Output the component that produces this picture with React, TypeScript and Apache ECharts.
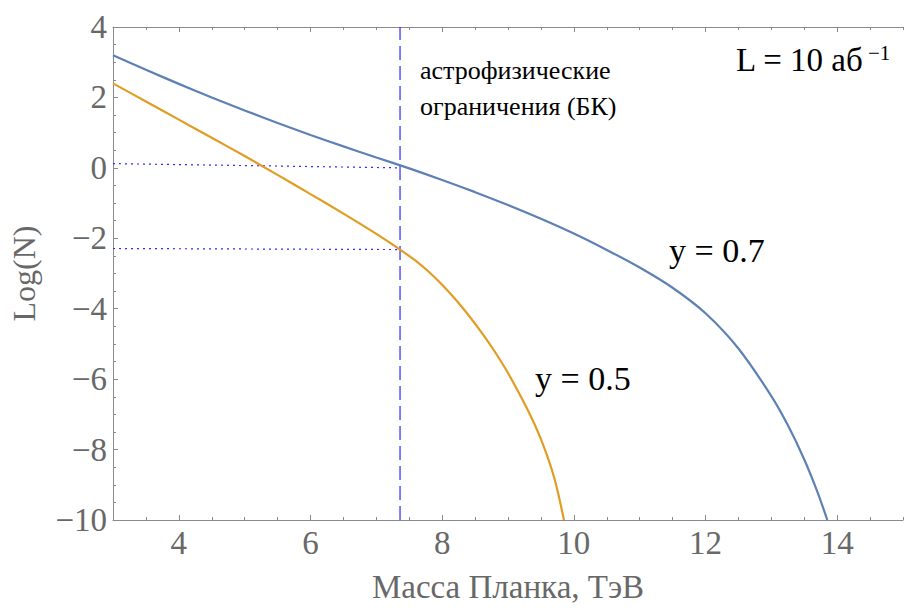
import React, { useEffect, useRef } from "react";
import * as echarts from "echarts";

// ---- data ----
const xMin = 3;
const xMax = 15;
const yMin = -10;
const yMax = 4;
const xMajorTicks = [4, 6, 8, 10, 12, 14];

const blueX = [3, 3.5, 4, 4.5, 5, 5.5, 6, 6.5, 7, 7.5, 8, 8.5, 9, 9.5, 10, 10.5, 11, 11.5, 12, 12.5, 13, 13.25, 13.5, 13.7, 13.85];
const blueY = [3.2, 2.785, 2.385, 2.0, 1.63, 1.275, 0.935, 0.61, 0.295, -0.015, -0.345, -0.69, -1.055, -1.445, -1.865, -2.33, -2.83, -3.405, -4.13, -5.13, -6.48, -7.305, -8.28, -9.2, -10];

const orangeX = [3, 3.5, 4, 4.5, 5, 5.5, 6, 6.5, 7, 7.36, 7.6, 7.8, 8, 8.3, 8.6, 8.8, 9, 9.3, 9.5, 9.7, 9.85];
const orangeY = [2.4, 1.885, 1.37, 0.855, 0.335, -0.2, -0.745, -1.3, -1.875, -2.32, -2.644, -2.958, -3.322, -3.952, -4.678, -5.222, -5.826, -6.876, -7.706, -8.786, -10];

const boundaryX = 7.36;
const guideX = [3, 7.36];
const guideBlueY = [0.12, 0.0];
const guideOrangeY = [-2.29, -2.32];

const xAxisName = "Масса Планка, ТэВ";
const yAxisName = "Log(N)";
const noteLines = ["астрофизические", "ограничения (БК)"];
const lumiText = "L = 10 аб";
const lumiSup = "−1";
const blueLabel = "y = 0.7";
const orangeLabel = "y = 0.5";

const FONT = "Liberation Serif";
const AXIS_COLOR = "#8a8a8a";
const LABEL_COLOR = "#686868";
const GUIDE_COLOR = "#2a2aff";

const zip = (xs: number[], ys: number[]) => xs.map((x, i) => [x, ys[i]]);
const fmt = (v: number) => (v < 0 ? "\u2212" + Math.abs(v) : String(v));

export default function App() {
  const ref = useRef<HTMLDivElement>(null);
  useEffect(() => {
    document.body.style.margin = "0";
    if (!ref.current) return;
    const chart = echarts.init(ref.current, undefined, { renderer: "svg" });

    const baseX = {
      type: "value" as const,
      min: xMin,
      max: xMax,
      splitLine: { show: false },
    };

    const note = (text: string, left: number, top: number, size: number) => ({
      text,
      left,
      top,
      padding: 0,
      textStyle: { fontFamily: FONT, fontSize: size, fontWeight: "normal", color: "#000" },
    });

    const option: any = {
      animation: false,
      backgroundColor: "#ffffff",
      textStyle: { fontFamily: FONT },
      title: [
        note(noteLines[0], 420, 57, 26),
        note(noteLines[1], 420, 93, 26),
        note(lumiText, 736, 43, 33),
        note(lumiSup, 868, 42, 21),
        note(blueLabel, 669, 233, 34),
        note(orangeLabel, 535, 361, 34),
      ],
      grid: { left: 113, top: 27, right: -7, bottom: 85 },
      xAxis: [
        {
          ...baseX,
          position: "bottom",
          interval: 0.5,
          name: xAxisName,
          nameLocation: "middle",
          nameGap: 50,
          nameTextStyle: { fontFamily: FONT, fontSize: 33, color: LABEL_COLOR },
          axisLine: { show: true, onZero: false, lineStyle: { color: AXIS_COLOR, width: 1 } },
          axisTick: { show: true, inside: true, length: 3, lineStyle: { color: AXIS_COLOR } },
          axisLabel: {
            show: true,
            margin: 6,
            fontFamily: FONT,
            fontSize: 33,
            color: LABEL_COLOR,
            formatter: (v: number) => (xMajorTicks.indexOf(v) >= 0 ? fmt(v) : ""),
          },
        },
        {
          ...baseX,
          position: "bottom",
          axisLine: { show: false, onZero: false },
          axisLabel: { show: false },
          axisTick: { show: true, inside: true, length: 5, customValues: xMajorTicks, lineStyle: { color: AXIS_COLOR } },
        },
        {
          ...baseX,
          position: "top",
          interval: 0.5,
          axisLine: { show: true, onZero: false, lineStyle: { color: AXIS_COLOR, width: 1 } },
          axisLabel: { show: false },
          axisTick: { show: true, inside: true, length: 3, lineStyle: { color: AXIS_COLOR } },
        },
        {
          ...baseX,
          position: "top",
          axisLine: { show: false, onZero: false },
          axisLabel: { show: false },
          axisTick: { show: true, inside: true, length: 5, customValues: xMajorTicks, lineStyle: { color: AXIS_COLOR } },
        },
      ],
      yAxis: [
        {
          type: "value",
          position: "left",
          min: yMin,
          max: yMax,
          interval: 2,
          name: yAxisName,
          nameLocation: "middle",
          nameGap: 73,
          nameRotate: 90,
          nameTextStyle: { fontFamily: FONT, fontSize: 32, color: LABEL_COLOR },
          splitLine: { show: false },
          axisLine: { show: true, onZero: false, lineStyle: { color: AXIS_COLOR, width: 1 } },
          axisTick: { show: true, inside: true, length: 5, lineStyle: { color: AXIS_COLOR } },
          minorTick: { show: true, splitNumber: 4, length: 3, lineStyle: { color: AXIS_COLOR } },
          axisLabel: { margin: 6, fontFamily: FONT, fontSize: 33, color: LABEL_COLOR, formatter: fmt },
        },
      ],
      series: [
        {
          type: "line",
          name: "guide07",
          data: zip(guideX, guideBlueY),
          showSymbol: false,
          lineStyle: { color: GUIDE_COLOR, width: 1.2, type: [2, 4] },
          z: 1,
        },
        {
          type: "line",
          name: "guide05",
          data: zip(guideX, guideOrangeY),
          showSymbol: false,
          lineStyle: { color: GUIDE_COLOR, width: 1.2, type: [2, 4] },
          z: 1,
        },
        {
          type: "line",
          name: "boundary",
          data: [
            [boundaryX, yMin],
            [boundaryX, yMax],
          ],
          showSymbol: false,
          lineStyle: { color: GUIDE_COLOR, width: 1.2, type: [14, 6] },
          z: 1,
        },
        {
          type: "line",
          name: "y07",
          data: zip(blueX, blueY),
          showSymbol: false,
          smooth: 0.3,
          lineStyle: { color: "#5E81B5", width: 2.2 },
          z: 3,
        },
        {
          type: "line",
          name: "y05",
          data: zip(orangeX, orangeY),
          showSymbol: false,
          smooth: 0.3,
          lineStyle: { color: "#E19C24", width: 2.2 },
          z: 3,
        },
      ],
    };

    chart.setOption(option);
    return () => chart.dispose();
  }, []);

  return <div ref={ref} style={{ width: 906, height: 608 }} />;
}
